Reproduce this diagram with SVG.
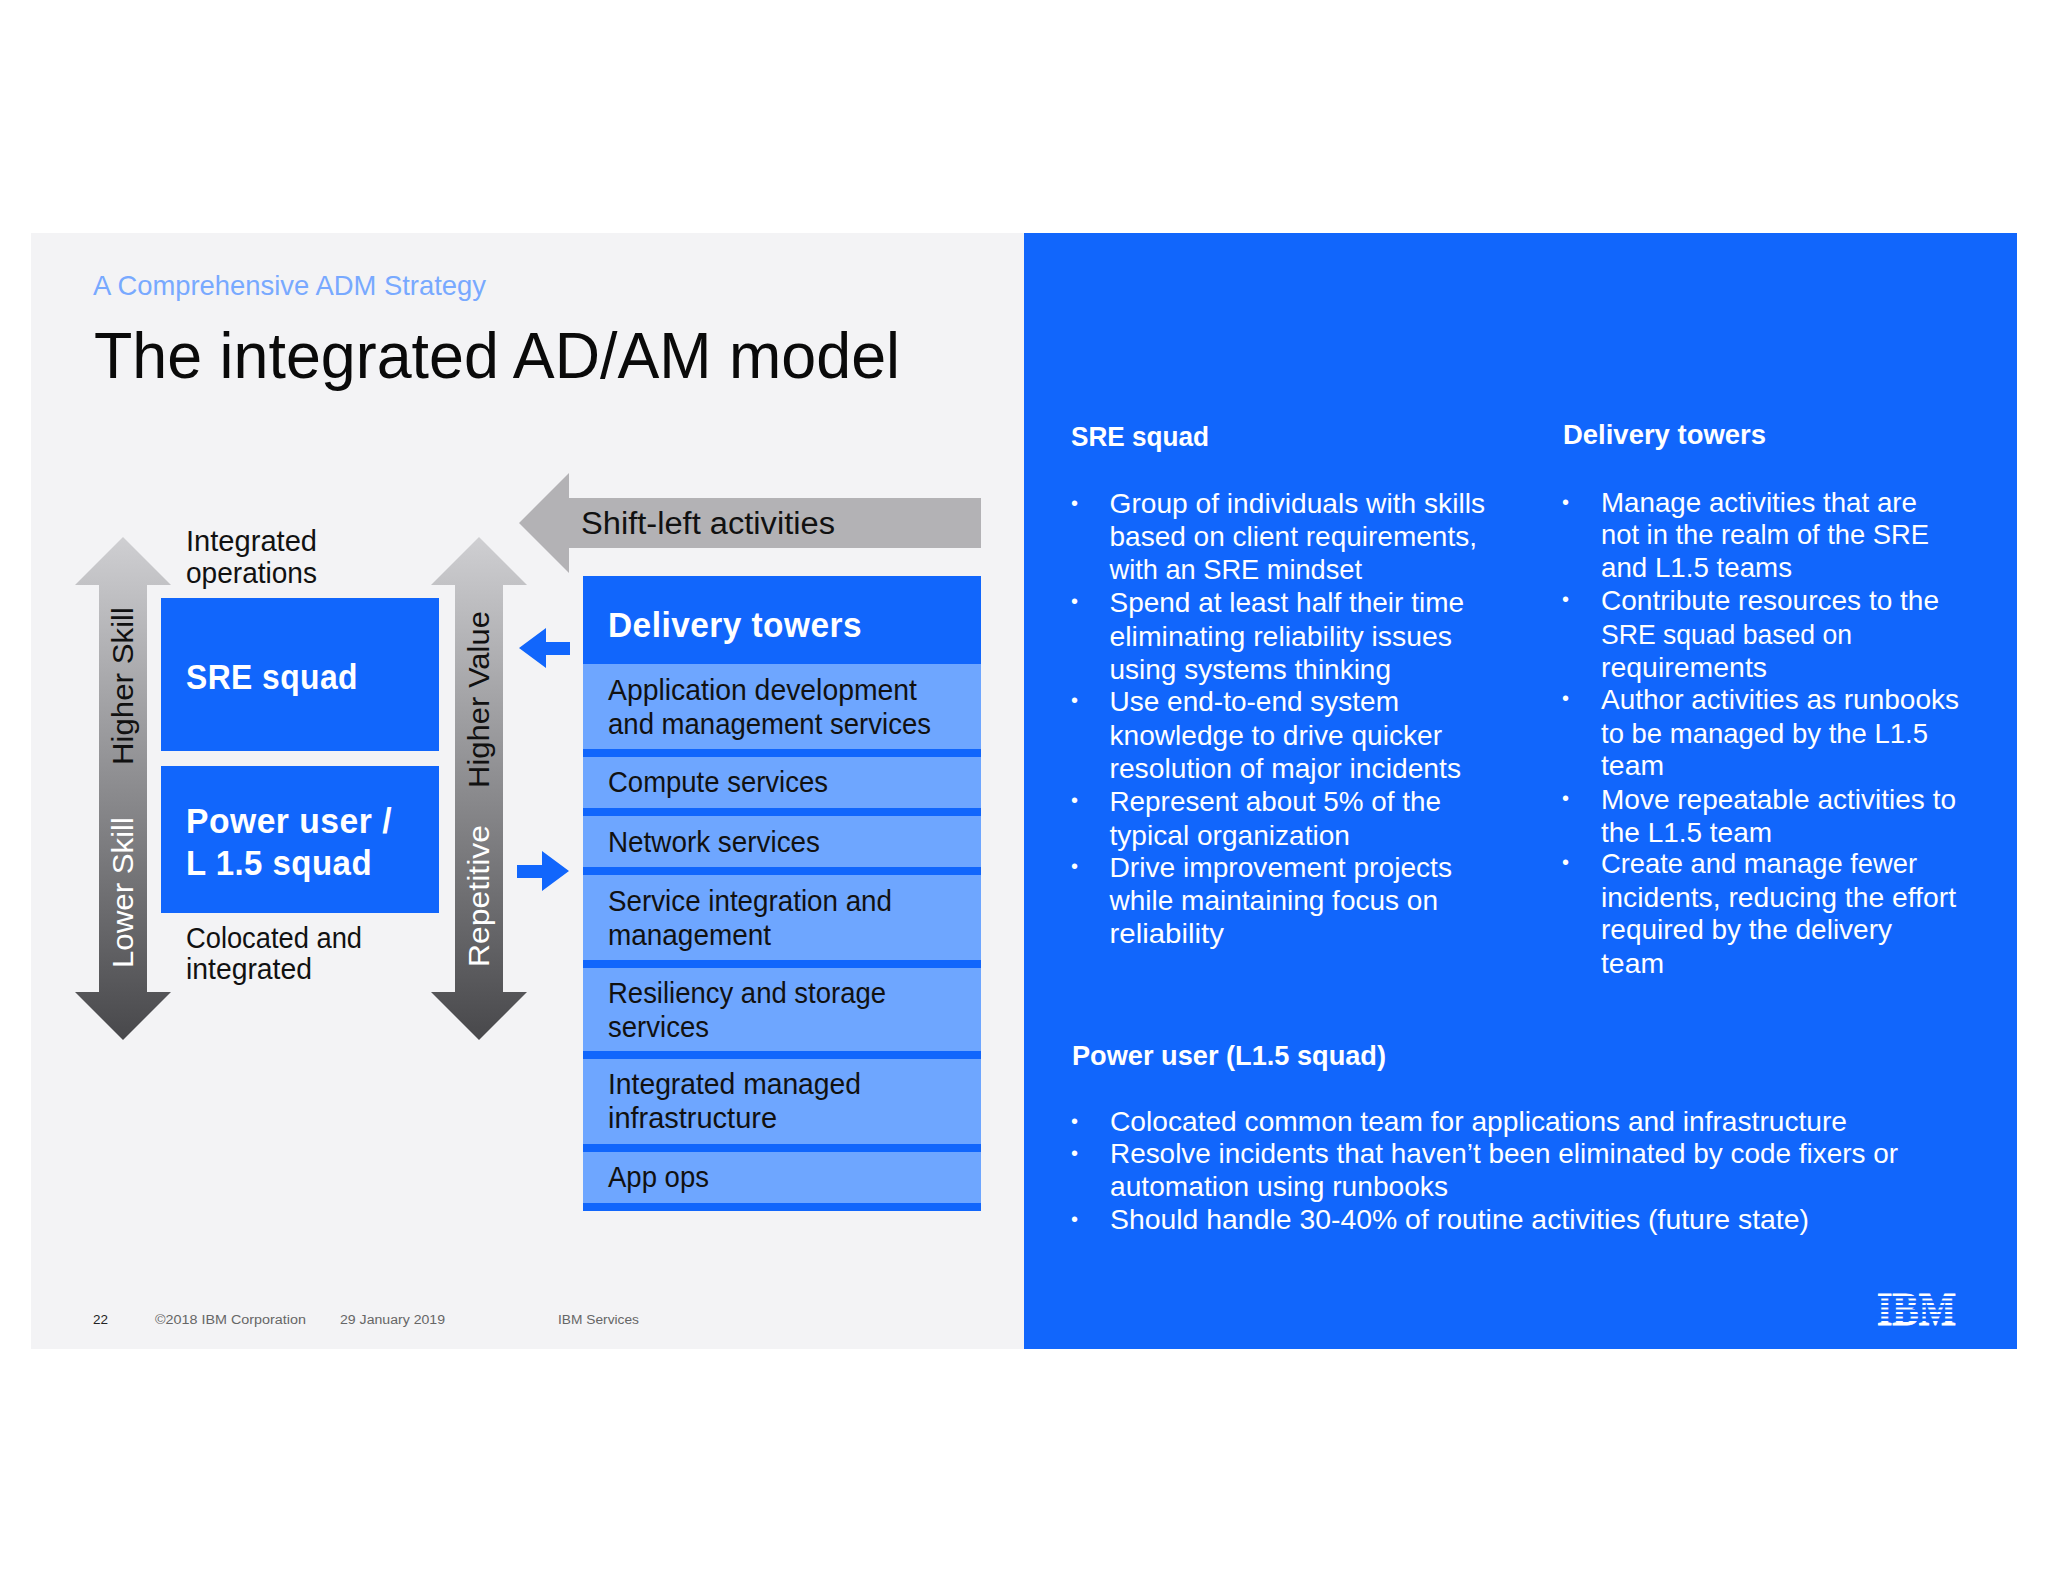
<svg xmlns="http://www.w3.org/2000/svg" width="2048" height="1582" viewBox="0 0 2048 1582">
<style>
text{font-family:"Liberation Sans","Noto Sans",sans-serif;fill:#111;font-size:29px}
.b{fill:#fff;font-weight:700}
.h{font-size:35px;letter-spacing:.5px}
.w{fill:#fff;font-size:28px}
.d{fill:#fff;font-size:20px}
.hd{fill:#fff;font-weight:700;font-size:28px}
.r{font-size:31px}
.f{font-size:12.5px;fill:#666}
.blue{fill:#1166fc}
.light{fill:#6ea6ff}
</style>
<defs>
<linearGradient id="g" x1="0" y1="0" x2="0" y2="1"><stop offset="0" stop-color="#cfcfd2"/><stop offset="1" stop-color="#48484b"/></linearGradient>
</defs>
<rect width="2048" height="1582" fill="#fff"/>
<rect x="31" y="233" width="993" height="1116" fill="#f3f3f5"/>
<rect x="1024" y="233" width="993" height="1116" class="blue"/>
<g id="heading">
<text x="93" y="295" style="fill:#78a9ff;font-size:28px" textLength="393" lengthAdjust="spacingAndGlyphs">A Comprehensive ADM Strategy</text>
<text x="94" y="378" style="font-size:64px;fill:#0a0a0a" textLength="806" lengthAdjust="spacingAndGlyphs">The integrated AD/AM model</text>
</g>
<g id="connectors">
<path fill="url(#g)" d="M123 537L171 585H147V992H171L123 1040L75 992H99V585H75Z"/>
<path fill="url(#g)" d="M479 537L527 585H503V992H527L479 1040L431 992H455V585H431Z"/>
<path fill="#b3b2b5" d="M519 523L569 473V498H981V548H569V573Z"/>
<path class="blue" d="M519 648L546 628V642H570V655H546V668Z"/>
<path class="blue" d="M569 871L542 851V865H517V878H542V891Z"/>
<text transform="translate(133 765) rotate(-90)" textLength="158" lengthAdjust="spacingAndGlyphs">Higher Skill</text>
<text transform="translate(133 968) rotate(-90)" style="fill:#fff" textLength="151" lengthAdjust="spacingAndGlyphs">Lower Skill</text>
<text transform="translate(489 788) rotate(-90)" textLength="177" lengthAdjust="spacingAndGlyphs">Higher Value</text>
<text transform="translate(489 967) rotate(-90)" style="fill:#fff" textLength="142" lengthAdjust="spacingAndGlyphs">Repetitive</text>
<text x="581" y="534" class="r" textLength="254" lengthAdjust="spacingAndGlyphs">Shift-left activities</text>
</g>
<g id="integrated-operations">
<text><tspan x="186" y="551" textLength="131" lengthAdjust="spacingAndGlyphs">Integrated</tspan><tspan x="186" y="583" textLength="131" lengthAdjust="spacingAndGlyphs">operations</tspan></text>
</g>
<g id="sre-squad">
<rect x="161" y="598" width="278" height="153" class="blue"/>
<text x="186" y="689" class="b h" textLength="172" lengthAdjust="spacingAndGlyphs">SRE squad</text>
</g>
<g id="power-user">
<rect x="161" y="766" width="278" height="147" class="blue"/>
<text class="b h"><tspan x="186" y="833" textLength="206" lengthAdjust="spacingAndGlyphs">Power user /</tspan><tspan x="186" y="875" textLength="186" lengthAdjust="spacingAndGlyphs">L 1.5 squad</tspan></text>
</g>
<g id="colocated">
<text><tspan x="186" y="948" textLength="176" lengthAdjust="spacingAndGlyphs">Colocated and</tspan><tspan x="186" y="979" textLength="126" lengthAdjust="spacingAndGlyphs">integrated</tspan></text>
</g>
<g id="delivery-towers">
<rect x="583" y="576" width="398" height="635" class="blue"/>
<text x="608" y="637" class="b h" textLength="254" lengthAdjust="spacingAndGlyphs">Delivery towers</text>
<rect x="583" y="664" width="398" height="85" class="light"/>
<rect x="583" y="757" width="398" height="51" class="light"/>
<rect x="583" y="816" width="398" height="51" class="light"/>
<rect x="583" y="875" width="398" height="85" class="light"/>
<rect x="583" y="968" width="398" height="83" class="light"/>
<rect x="583" y="1059" width="398" height="85" class="light"/>
<rect x="583" y="1152" width="398" height="51" class="light"/>
<text><tspan x="608" y="700" textLength="309" lengthAdjust="spacingAndGlyphs">Application development</tspan><tspan x="608" y="734" textLength="323" lengthAdjust="spacingAndGlyphs">and management services</tspan></text>
<text x="608" y="792" textLength="220" lengthAdjust="spacingAndGlyphs">Compute services</text>
<text x="608" y="852" textLength="212" lengthAdjust="spacingAndGlyphs">Network services</text>
<text><tspan x="608" y="911" textLength="284" lengthAdjust="spacingAndGlyphs">Service integration and</tspan><tspan x="608" y="945" textLength="163" lengthAdjust="spacingAndGlyphs">management</tspan></text>
<text><tspan x="608" y="1003" textLength="278" lengthAdjust="spacingAndGlyphs">Resiliency and storage</tspan><tspan x="608" y="1037" textLength="101" lengthAdjust="spacingAndGlyphs">services</tspan></text>
<text><tspan x="608" y="1094" textLength="253" lengthAdjust="spacingAndGlyphs">Integrated managed</tspan><tspan x="608" y="1128" textLength="169" lengthAdjust="spacingAndGlyphs">infrastructure</tspan></text>
<text x="608" y="1187" textLength="101" lengthAdjust="spacingAndGlyphs">App ops</text>
</g>
<g id="sre-text">
<text x="1071" y="446" class="hd" textLength="138" lengthAdjust="spacingAndGlyphs">SRE squad</text>
<text class="d"><tspan x="1071" y="510">•</tspan><tspan x="1071" y="608">•</tspan><tspan x="1071" y="707">•</tspan><tspan x="1071" y="807">•</tspan><tspan x="1071" y="873">•</tspan></text>
<text class="w">
<tspan x="1109.500" y="513" textLength="375.500" lengthAdjust="spacingAndGlyphs">Group of individuals with skills</tspan>
<tspan x="1109.500" y="546" textLength="367.500" lengthAdjust="spacingAndGlyphs">based on client requirements,</tspan>
<tspan x="1109.500" y="579" textLength="252.500" lengthAdjust="spacingAndGlyphs">with an SRE mindset</tspan>
<tspan x="1109.500" y="612" textLength="354.500" lengthAdjust="spacingAndGlyphs">Spend at least half their time</tspan>
<tspan x="1109.500" y="646" textLength="342.500" lengthAdjust="spacingAndGlyphs">eliminating reliability issues</tspan>
<tspan x="1109.500" y="679" textLength="281.500" lengthAdjust="spacingAndGlyphs">using systems thinking</tspan>
<tspan x="1109.500" y="711" textLength="289.500" lengthAdjust="spacingAndGlyphs">Use end-to-end system</tspan>
<tspan x="1109.500" y="745" textLength="332.500" lengthAdjust="spacingAndGlyphs">knowledge to drive quicker</tspan>
<tspan x="1109.500" y="778" textLength="351.500" lengthAdjust="spacingAndGlyphs">resolution of major incidents</tspan>
<tspan x="1109.500" y="811" textLength="331.500" lengthAdjust="spacingAndGlyphs">Represent about 5% of the</tspan>
<tspan x="1109.500" y="845" textLength="240.500" lengthAdjust="spacingAndGlyphs">typical organization</tspan>
<tspan x="1109.500" y="877" textLength="342.500" lengthAdjust="spacingAndGlyphs">Drive improvement projects</tspan>
<tspan x="1109.500" y="910" textLength="328.500" lengthAdjust="spacingAndGlyphs">while maintaining focus on</tspan>
<tspan x="1109.500" y="943" textLength="114.500" lengthAdjust="spacingAndGlyphs">reliability</tspan>
</text>
</g>
<g id="delivery-text">
<text x="1563" y="444" class="hd" textLength="203" lengthAdjust="spacingAndGlyphs">Delivery towers</text>
<text class="d"><tspan x="1562" y="509">•</tspan><tspan x="1562" y="606">•</tspan><tspan x="1562" y="705">•</tspan><tspan x="1562" y="805">•</tspan><tspan x="1562" y="869">•</tspan></text>
<text class="w">
<tspan x="1601" y="512" textLength="316" lengthAdjust="spacingAndGlyphs">Manage activities that are</tspan>
<tspan x="1601" y="544" textLength="328" lengthAdjust="spacingAndGlyphs">not in the realm of the SRE</tspan>
<tspan x="1601" y="577" textLength="191" lengthAdjust="spacingAndGlyphs">and L1.5 teams</tspan>
<tspan x="1601" y="610" textLength="338" lengthAdjust="spacingAndGlyphs">Contribute resources to the</tspan>
<tspan x="1601" y="644" textLength="251" lengthAdjust="spacingAndGlyphs">SRE squad based on</tspan>
<tspan x="1601" y="677" textLength="166" lengthAdjust="spacingAndGlyphs">requirements</tspan>
<tspan x="1601" y="709" textLength="358" lengthAdjust="spacingAndGlyphs">Author activities as runbooks</tspan>
<tspan x="1601" y="743" textLength="327" lengthAdjust="spacingAndGlyphs">to be managed by the L1.5</tspan>
<tspan x="1601" y="775" textLength="63" lengthAdjust="spacingAndGlyphs">team</tspan>
<tspan x="1601" y="809" textLength="355" lengthAdjust="spacingAndGlyphs">Move repeatable activities to</tspan>
<tspan x="1601" y="842" textLength="171" lengthAdjust="spacingAndGlyphs">the L1.5 team</tspan>
<tspan x="1601" y="873" textLength="316" lengthAdjust="spacingAndGlyphs">Create and manage fewer</tspan>
<tspan x="1601" y="907" textLength="355" lengthAdjust="spacingAndGlyphs">incidents, reducing the effort</tspan>
<tspan x="1601" y="939" textLength="291" lengthAdjust="spacingAndGlyphs">required by the delivery</tspan>
<tspan x="1601" y="973" textLength="63" lengthAdjust="spacingAndGlyphs">team</tspan>
</text>
</g>
<g id="power-text">
<text x="1072" y="1065" class="hd" textLength="314" lengthAdjust="spacingAndGlyphs">Power user (L1.5 squad)</text>
<text class="d"><tspan x="1071" y="1128">•</tspan><tspan x="1071" y="1160">•</tspan><tspan x="1071" y="1226">•</tspan></text>
<text class="w">
<tspan x="1110" y="1131" textLength="737" lengthAdjust="spacingAndGlyphs">Colocated common team for applications and infrastructure</tspan>
<tspan x="1110" y="1163" textLength="788" lengthAdjust="spacingAndGlyphs">Resolve incidents that haven’t been eliminated by code fixers or</tspan>
<tspan x="1110" y="1196" textLength="338" lengthAdjust="spacingAndGlyphs">automation using runbooks</tspan>
<tspan x="1110" y="1229" textLength="699" lengthAdjust="spacingAndGlyphs">Should handle 30-40% of routine activities (future state)</tspan>
</text>
</g>
<g id="footer">
<text x="93" y="1324" class="f" style="fill:#222" textLength="15" lengthAdjust="spacingAndGlyphs">22</text>
<text x="155" y="1324" class="f" textLength="151" lengthAdjust="spacingAndGlyphs">©2018 IBM Corporation</text>
<text x="340" y="1324" class="f" textLength="105" lengthAdjust="spacingAndGlyphs">29 January 2019</text>
<text x="558" y="1324" class="f" textLength="81" lengthAdjust="spacingAndGlyphs">IBM Services</text>
</g>
<g id="ibm-logo">
<text x="1877" y="1325" style="font-family:'Liberation Serif',serif;font-weight:700;font-size:46px;fill:#fff;stroke:#fff;stroke-width:.8" textLength="79" lengthAdjust="spacingAndGlyphs">IBM</text>
<g class="blue"><rect x="1875" y="1296" width="84" height="2.5"/><rect x="1875" y="1300.5" width="84" height="2.5"/><rect x="1875" y="1305" width="84" height="2.5"/><rect x="1875" y="1309.500" width="84" height="2.500"/><rect x="1875" y="1314" width="84" height="2.5"/><rect x="1875" y="1318.500" width="84" height="2.500"/></g>
</g>
</svg>
